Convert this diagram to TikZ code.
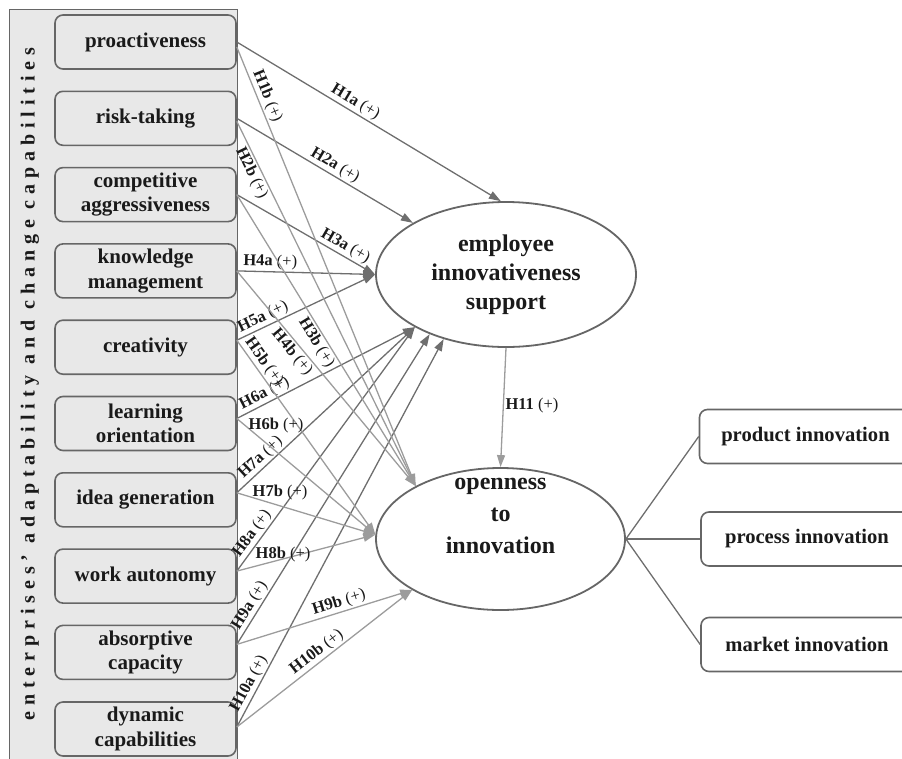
\documentclass[tikz,border=0pt]{standalone}
\usepackage{fontspec}
\setmainfont{Liberation Serif}
\newfontfamily\spacedfont[LetterSpace=29.5, UprightFont=* Bold, BoldFont=* Bold]{Liberation Serif}
\usetikzlibrary{arrows.meta,shapes.geometric}
\definecolor{panelfill}{HTML}{E8E8E8}
\definecolor{edgegray}{HTML}{666666}
\definecolor{darkline}{HTML}{6E6E6E}
\definecolor{lightline}{HTML}{9C9C9C}
\definecolor{txt}{HTML}{1A1A1A}
\newcommand\hyplabel[1]{\textbf{#1}~(+)}
\begin{document}
\begin{tikzpicture}[x=1pt,y=-1pt,
  capbox/.style={draw=edgegray, line width=1.6pt, fill=panelfill, rounded corners=8pt,
    minimum width=181pt, minimum height=54pt, inner sep=0pt, align=center,
    font=\fontsize{21}{24.5}\selectfont\bfseries, text=txt},
  outbox/.style={draw=edgegray, line width=1.6pt, fill=white, rounded corners=8pt,
    minimum width=212pt, minimum height=54pt, inner sep=0pt,
    font=\fontsize{20.6}{24}\selectfont\bfseries, text=txt},
  construct/.style={ellipse, draw=edgegray, line width=1.8pt, fill=white, inner sep=0pt,
    align=center, font=\fontsize{24}{29}\selectfont\bfseries, text=txt},
  patha/.style={draw=darkline, line width=1.3pt, -{Triangle[length=12pt,width=8pt]}},
  pathb/.style={draw=lightline, line width=1.3pt, -{Triangle[length=12pt,width=8pt]}},
  plainline/.style={draw=darkline, line width=1.3pt},
  hyp/.style={font=\fontsize{16.5}{18}\selectfont, text=txt, inner sep=1.5pt},
]
\useasboundingbox (0,0) rectangle (902,758);
\clip (0,0) rectangle (902,758);

% left panel
\node[draw=edgegray, fill=panelfill, line width=1.3pt, minimum width=228pt,
  minimum height=770pt, anchor=north west, inner sep=0pt] (panel) at (9,9) {};
\node[rotate=90, font=\fontsize{20}{22}\spacedfont, text=txt] (vtitle) at (30,384)
  {enterprises’ adaptability and change capabilities};

% capability boxes
\node[capbox] (b1) at (145.5,42) {proactiveness};
\node[capbox] (b2) at (145.5,118.3) {risk-taking};
\node[capbox] (b3) at (145.5,194.6) {competitive\\aggressiveness};
\node[capbox] (b4) at (145.5,270.9) {knowledge\\management};
\node[capbox] (b5) at (145.5,347.2) {creativity};
\node[capbox] (b6) at (145.5,423.5) {learning\\orientation};
\node[capbox] (b7) at (145.5,499.8) {idea generation};
\node[capbox] (b8) at (145.5,576.1) {work autonomy};
\node[capbox] (b9) at (145.5,652.4) {absorptive\\capacity};
\node[capbox] (b10) at (145.5,729) {dynamic\\capabilities};

% constructs
\node[construct, minimum width=260pt, minimum height=145pt] (e1) at (506,274.5)
  {employee\\innovativeness\\support};
\node[construct, minimum width=249pt, minimum height=142pt] (e2) at (500.5,539) {};
\node[align=center, font=\fontsize{24}{32}\selectfont\bfseries, text=txt] (e2text) at (500.5,516)
  {openness\\to\\innovation};

% outcome boxes
\node[outbox] (r1) at (805.5,436.5) {product innovation};
\node[outbox] (r2) at (807,539) {process innovation};
\node[outbox] (r3) at (807,644.5) {market innovation};

% paths to employee innovativeness support
\draw[patha] (b1.east) -- node[hyp, pos=.43, sloped, above]{\hyplabel{H1a}} (e1.94);
\draw[patha] (b2.east) -- node[hyp, pos=.53, sloped, above]{\hyplabel{H2a}} (e1.151);
\draw[patha] (b3.east) -- node[hyp, pos=.75, sloped, above]{\hyplabel{H3a}} (e1.west);
\draw[patha] (b4.east) -- node[hyp, pos=.24, sloped, above]{\hyplabel{H4a}} (e1.west);
\draw[patha] ([yshift=7pt]b5.east) -- node[hyp, pos=.22, sloped, above]{\hyplabel{H5a}} (e1.west);
\draw[patha] ([yshift=5pt]b6.east) -- node[hyp, pos=.18, sloped, above]{\hyplabel{H6a}} (e1.210);
\draw[patha] ([yshift=7pt]b7.east) -- node[hyp, pos=.17, sloped, above]{\hyplabel{H7a}} (e1.210);
\draw[patha] ([yshift=5pt]b8.east) -- node[hyp, pos=.13, sloped, above]{\hyplabel{H8a}} (e1.210);
\draw[patha] ([yshift=8pt]b9.east) -- node[hyp, pos=.11, sloped, above]{\hyplabel{H9a}} (e1.218);
\draw[patha] ([yshift=2pt]b10.east) -- node[hyp, pos=.10, sloped, above]{\hyplabel{H10a}} (e1.226);

% paths to openness to innovation
\draw[pathb] ([yshift=-5pt]b1.east) -- node[hyp, pos=.12, sloped, above]{\hyplabel{H1b}} (e2.148);
\draw[pathb] ([yshift=-3pt]b2.east) -- node[hyp, pos=.13, sloped, below]{\hyplabel{H2b}} (e2.148);
\draw[pathb] (b3.east) -- node[hyp, pos=.49, sloped, below]{\hyplabel{H3b}} (e2.148);
\draw[pathb] (b4.east) -- node[hyp, pos=.35, sloped, below]{\hyplabel{H4b}} (e2.148);
\draw[pathb] ([yshift=7pt]b5.east) -- node[hyp, pos=.14, sloped, above]{\hyplabel{H5b}} (e2.178);
\draw[pathb] ([yshift=5pt]b6.east) -- (e2.178);
\draw[pathb] ([yshift=7pt]b7.east) -- (e2.178);
\draw[pathb] ([yshift=5pt]b8.east) -- (e2.178);
\draw[pathb] ([yshift=8pt]b9.east) -- node[hyp, pos=.6, sloped, above]{\hyplabel{H9b}} (e2.210);
\draw[pathb] ([yshift=2pt]b10.east) -- node[hyp, pos=.49, sloped, above]{\hyplabel{H10b}} (e2.210);
\node[hyp] (l6b) at (276,426) {\hyplabel{H6b}};
\node[hyp] (l7b) at (280,493) {\hyplabel{H7b}};
\node[hyp] (l8b) at (283,555) {\hyplabel{H8b}};

% mediation path
\draw[pathb] (e1.south) -- node[hyp, pos=.48, right]{\hyplabel{H11}} (e2.north);

% outcome dimensions
\draw[plainline] (e2.east) -- (r1.west);
\draw[plainline] (e2.east) -- (r2.west);
\draw[plainline] (e2.east) -- (r3.west);
\end{tikzpicture}
\end{document}
